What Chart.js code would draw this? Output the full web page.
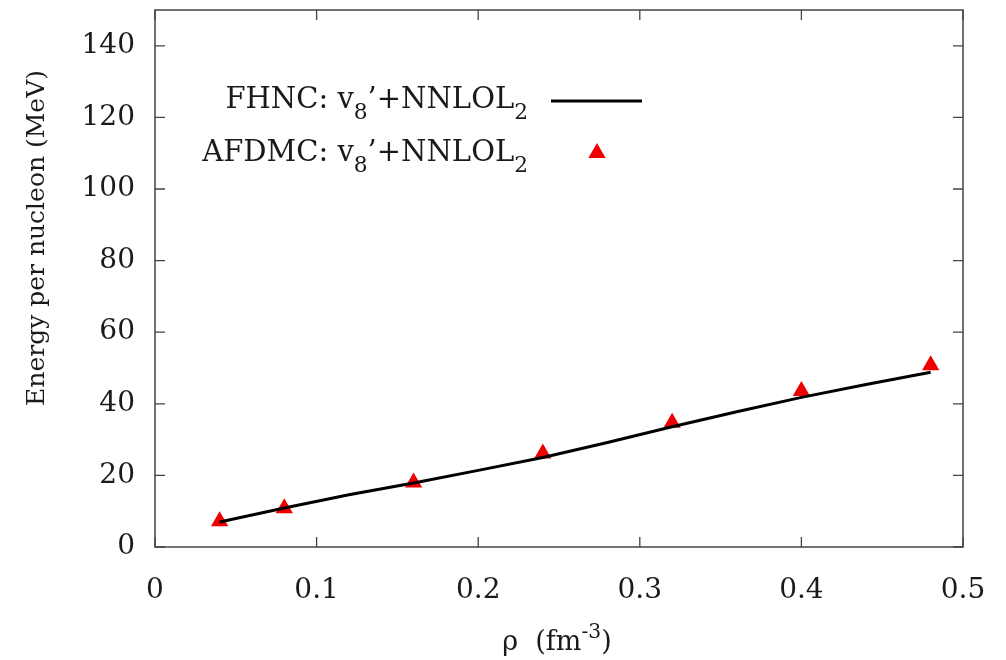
<!DOCTYPE html>
<html>
<head>
<meta charset="utf-8">
<script src="https://cdn.jsdelivr.net/npm/chart.js@4.4.0/dist/chart.umd.min.js"></script>
<style>
  html, body { margin: 0; padding: 0; background: #fff; }
  #wrap { width: 1006px; height: 660px; }
</style>
</head>
<body>
<div id="wrap"><canvas id="chart"></canvas></div>
<script>
// data
const afdmcDensity = [0.04, 0.08, 0.16, 0.24, 0.32, 0.40, 0.48];
const afdmcEnergy = [7.2, 10.8, 18.0, 26.1, 34.7, 43.6, 50.8];
const fhncDensity = [0.04, 0.08, 0.12, 0.16, 0.20, 0.24, 0.28, 0.32, 0.36, 0.40, 0.44, 0.48];
const fhncEnergy = [7.0, 10.9, 14.6, 17.9, 21.4, 25.0, 29.2, 33.6, 37.8, 41.8, 45.4, 48.8];
const xTicks = [0, 0.1, 0.2, 0.3, 0.4, 0.5];
const yTicks = [0, 20, 40, 60, 80, 100, 120, 140];
const yTitle = 'Energy per nucleon (MeV)';
const xTitle = [['\u03C1  (fm'], ['-3', 'sup'], [')']];
const fhncLabel = [['FHNC: v'], ['8', 'sub'], ['\u2019+NNLOL'], ['2', 'sub']];
const afdmcLabel = [['AFDMC: v'], ['8', 'sub'], ['\u2019+NNLOL'], ['2', 'sub']];

const FONT = '"DejaVu Serif", serif';
const TEXT = '#1a1a1a';

function toPoints(xs, ys) {
  return xs.map((x, i) => ({x: x, y: ys[i]}));
}

// draws text made of normal / subscript / superscript runs
function drawRich(ctx, runs, x, y, size, align) {
  let widths = runs.map(r => {
    ctx.font = (r[1] ? size * 0.75 : size) + 'px ' + FONT;
    return ctx.measureText(r[0]).width;
  });
  let total = widths.reduce((a, b) => a + b, 0);
  let cx = align === 'right' ? x - total : (align === 'center' ? x - total / 2 : x);
  ctx.textAlign = 'left';
  ctx.textBaseline = 'alphabetic';
  runs.forEach((r, i) => {
    ctx.font = (r[1] ? size * 0.75 : size) + 'px ' + FONT;
    let dy = r[1] === 'sub' ? size * 0.38 : (r[1] === 'sup' ? -size * 0.45 : 0);
    ctx.fillText(r[0], cx, y + dy);
    cx += widths[i];
  });
}

const framePlugin = {
  id: 'frame',
  afterDraw(chart) {
    const ctx = chart.ctx;
    const a = chart.chartArea;
    const xs = chart.scales.x, ys = chart.scales.y;
    ctx.save();
    ctx.strokeStyle = '#444';
    ctx.lineWidth = 1.5;
    ctx.strokeRect(a.left, a.top, a.right - a.left, a.bottom - a.top);
    ctx.lineWidth = 1.3;
    ctx.beginPath();
    xTicks.forEach(v => {
      let p = xs.getPixelForValue(v);
      ctx.moveTo(p, a.bottom); ctx.lineTo(p, a.bottom - 10);
      ctx.moveTo(p, a.top); ctx.lineTo(p, a.top + 10);
    });
    yTicks.forEach(v => {
      let p = ys.getPixelForValue(v);
      ctx.moveTo(a.left, p); ctx.lineTo(a.left + 10, p);
      ctx.moveTo(a.right, p); ctx.lineTo(a.right - 10, p);
    });
    ctx.stroke();

    ctx.fillStyle = TEXT;
    // y axis title, sits a bit above the middle of the axis like the original
    ctx.save();
    ctx.translate(37, 238);
    ctx.rotate(-Math.PI / 2);
    ctx.font = '25px ' + FONT;
    ctx.textAlign = 'center';
    ctx.textBaseline = 'middle';
    ctx.fillText(yTitle, 0, 0);
    ctx.restore();

    // x axis title with superscript
    drawRich(ctx, xTitle, 557, 650, 27, 'center');

    // key
    drawRich(ctx, fhncLabel, 528, 108, 29, 'right');
    drawRich(ctx, afdmcLabel, 528, 161, 29, 'right');
    ctx.strokeStyle = '#000';
    ctx.lineWidth = 3;
    ctx.beginPath();
    ctx.moveTo(551, 101); ctx.lineTo(642, 101);
    ctx.stroke();
    ctx.fillStyle = '#ee0000';
    Chart.helpers.drawPoint(ctx, {pointStyle: 'triangle', radius: 10, borderWidth: 0}, 597, 153);
    ctx.restore();
  }
};

new Chart(document.getElementById('chart'), {
  type: 'scatter',
  data: {
    datasets: [
      {
        label: 'FHNC',
        data: toPoints(fhncDensity, fhncEnergy),
        showLine: true,
        borderColor: '#000',
        borderWidth: 3,
        pointRadius: 0,
        tension: 0
      },
      {
        label: 'AFDMC',
        data: toPoints(afdmcDensity, afdmcEnergy),
        pointStyle: 'triangle',
        pointRadius: 10,
        backgroundColor: '#ee0000',
        borderColor: '#ee0000',
        borderWidth: 0
      }
    ]
  },
  options: {
    responsive: true,
    maintainAspectRatio: false,
    animation: false,
    layout: {padding: {left: 0, right: 43, top: 7, bottom: 0}},
    plugins: {legend: {display: false}, tooltip: {enabled: false}},
    scales: {
      x: {
        type: 'linear',
        min: 0, max: 0.5,
        grid: {display: false},
        border: {display: false},
        afterBuildTicks: s => { s.ticks = xTicks.map(v => ({value: v})); },
        afterFit: s => { s.height = 113; s.paddingLeft = 0; s.paddingRight = 0; },
        ticks: {
          padding: 19,
          color: TEXT,
          font: {family: FONT, size: 28},
          callback: v => String(v)
        }
      },
      y: {
        type: 'linear',
        min: 0, max: 150,
        grid: {display: false},
        border: {display: false},
        afterBuildTicks: s => { s.ticks = yTicks.map(v => ({value: v})); },
        afterFit: s => { s.width = 155; s.paddingTop = 0; s.paddingBottom = 0; },
        ticks: {
          padding: 12,
          color: TEXT,
          font: {family: FONT, size: 28}
        }
      }
    }
  },
  plugins: [framePlugin]
});
</script>
</body>
</html>
